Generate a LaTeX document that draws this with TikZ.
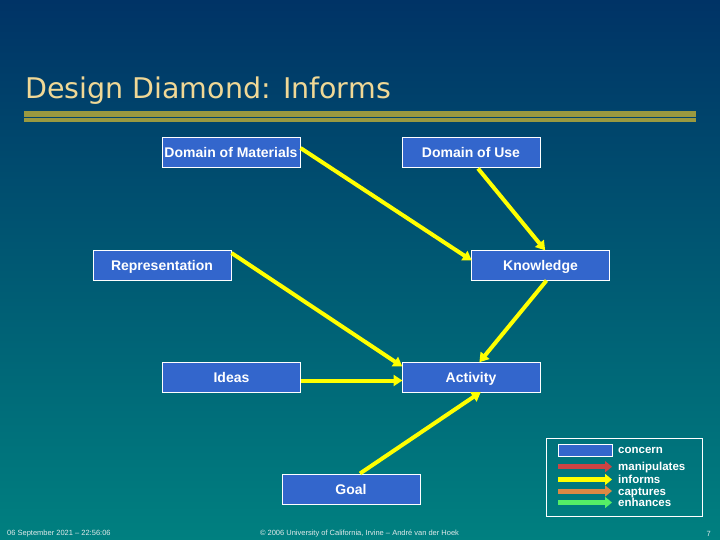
\documentclass[tikz,border=0pt]{standalone}
\usepackage{fontspec}
\setmainfont{Liberation Sans}
\newfontfamily\titlefont{DejaVu Sans}
\usetikzlibrary{arrows.meta}
\definecolor{bgtop}{RGB}{0,51,102}
\definecolor{bgbot}{RGB}{0,128,128}
\definecolor{boxblue}{RGB}{51,102,204}
\definecolor{titletan}{RGB}{240,216,150}
\definecolor{olive}{RGB}{153,153,64}
\definecolor{manred}{RGB}{204,68,68}
\definecolor{infyellow}{RGB}{255,255,0}
\definecolor{caporange}{RGB}{221,136,68}
\definecolor{enhgreen}{RGB}{85,238,102}
\definecolor{foot}{RGB}{225,235,235}
\tikzset{
  concernbox/.style={draw=white, line width=1pt, fill=boxblue, minimum width=138pt, minimum height=30pt, inner sep=0pt, text height=10pt, text depth=0pt, text=white, font=\fontsize{14}{16}\selectfont\bfseries},
  informsarrow/.style={draw=infyellow, line width=4pt, -{Triangle[length=9pt,width=11pt]}, shorten >=-1pt},
  legendarrow/.style={line width=5pt, -{Triangle[length=7pt,width=11pt]}},
  legendtext/.style={anchor=west, inner sep=0pt, text height=8.5pt, text depth=0pt, text=white, font=\fontsize{11.5}{12}\selectfont\bfseries},
  foottext/.style={inner sep=0pt, text=foot, font=\fontsize{7.5}{8}\selectfont}
}
\begin{document}
\begin{tikzpicture}[x=1pt,y=-1pt]
\useasboundingbox (0,0) rectangle (720,540);
\shade[top color=bgtop, bottom color=bgbot] (0,0) rectangle (720,540);
% title
\node[anchor=base west, inner sep=0pt, text=titletan, font=\titlefont\fontsize{28.5}{32}\selectfont] (title) at (25,98.3) {Design Diamond: Informs};
\fill[olive] (24,111) rectangle (696,117.3);
\fill[olive] (24,118.3) rectangle (696,121.7);
% concerns
\node[concernbox] (dom) at (231,153) {Domain of Materials};
\node[concernbox] (dou) at (471,153) {Domain of Use};
\node[concernbox] (rep) at (162,265) {Representation};
\node[concernbox] (kno) at (540.5,265) {Knowledge};
\node[concernbox] (ide) at (231.5,377) {Ideas};
\node[concernbox] (act) at (471,377) {Activity};
\node[concernbox] (goal) at (351,489) {Goal};
% informs arrows
\draw[informsarrow] ([yshift=5pt]dom.east) -- ([yshift=5pt]kno.west);
\draw[informsarrow] ([xshift=7pt]dou.south) -- ([xshift=4pt]kno.north);
\draw[informsarrow] ([yshift=12pt]rep.east) -- ([yshift=11pt]act.west);
\draw[informsarrow] ([xshift=6pt]kno.south) -- ([xshift=9pt]act.north);
\draw[informsarrow] ([yshift=-3.5pt]ide.east) -- ([yshift=-3.5pt]act.west);
\draw[informsarrow] ([xshift=9pt]goal.north) -- ([xshift=9pt]act.south);
% legend
\draw[white, line width=1pt] (546,438.3) rectangle (702.7,516.7);
\node[draw=white, line width=1pt, fill=boxblue, minimum width=54pt, minimum height=12pt, inner sep=0pt] (lgconcern) at (585,450) {};
\coordinate (lr1) at (558,466.7); \coordinate (lr2) at (612,466.7);
\coordinate (ly1) at (558,479.5); \coordinate (ly2) at (612,479.5);
\coordinate (lo1) at (558,491); \coordinate (lo2) at (612,491);
\coordinate (lg1) at (558,502.5); \coordinate (lg2) at (612,502.5);
\draw[legendarrow, manred] (lr1) -- (lr2);
\draw[legendarrow, infyellow] (ly1) -- (ly2);
\draw[legendarrow, caporange] (lo1) -- (lo2);
\draw[legendarrow, enhgreen] (lg1) -- (lg2);
\node[legendtext] (tconcern) at (618,449) {concern};
\node[legendtext] (tman) at (618,466.7) {manipulates};
\node[legendtext] (tinf) at (618,479) {informs};
\node[legendtext] (tcap) at (618,491) {captures};
\node[legendtext] (tenh) at (618,502.7) {enhances};
% footer
\node[foottext, anchor=west] (fdate) at (7,533.5) {06 September 2021 – 22:56:06};
\node[foottext] (fcopy) at (359.5,533.5) {© 2006 University of California, Irvine – André van der Hoek};
\node[foottext, anchor=east] (fpage) at (711,533.5) {7};
\end{tikzpicture}
\end{document}
